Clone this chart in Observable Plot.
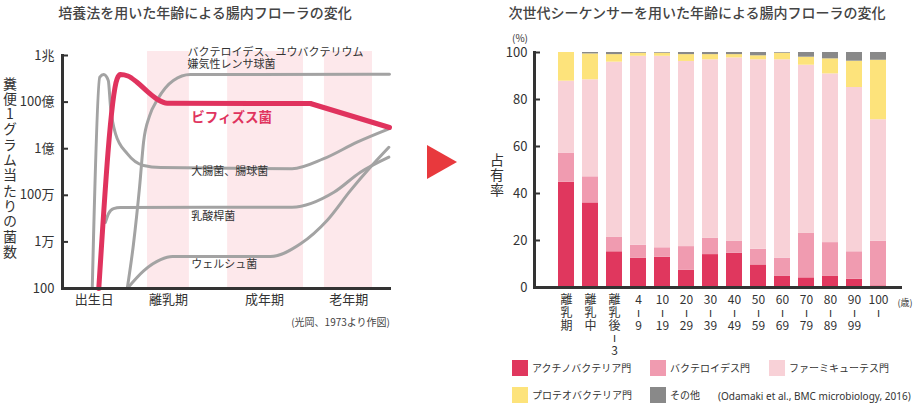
<!DOCTYPE html>
<html><head><meta charset="utf-8">
<script src="https://cdn.jsdelivr.net/npm/d3@7"></script>
<script src="https://cdn.jsdelivr.net/npm/@observablehq/plot@0.6"></script>
<style>
body{margin:0;background:#fff;}
#wrap{position:relative;width:914px;height:404px;overflow:hidden;background:#fff;font-family:'Noto Sans CJK JP','Noto Sans',sans-serif;color:#333;}
.abs{position:absolute;white-space:nowrap;line-height:1;}
.c{transform:translate(-50%,-50%);}
.lc{transform:translate(0,-50%);}
.rc{transform:translate(-100%,-50%);}
.sw{position:absolute;width:16px;height:16px;}
.vert{writing-mode:vertical-rl;text-orientation:upright;}
</style></head><body><div id="wrap"></div>
<script>
const FONT = "'Noto Sans CJK JP','Noto Sans',sans-serif";

// ---------- Left chart data (x: relative age position 0-100, values: log10 bacteria count) ----------
const yTickValues = [1e2, 1e4, 1e6, 1e8, 1e10, 1e12];
const yTickLabels = ["100", "1万", "100万", "1億", "100億", "1兆"];
const stagePos = [9.7, 32.4, 61.8, 87.5];
const stageLabels = ["出生日", "離乳期", "成年期", "老年期"];
const bandStart = [26.0, 50.5, 80.1];
const bandEnd = [38.8, 73.7, 94.8];
const bandTopLog = 12.17;

const bifidoX = [11.1, 16.7, 17.7, 20.0, 22.8, 26.0, 29.0, 32.0, 75.8];
const bifidoLog = [2.0, 11.0, 11.18, 11.12, 10.85, 10.45, 10.12, 9.95, 9.94];
const bifidoDeclineX = [75.8, 100];
const bifidoDeclineLog = [9.94, 8.91];

const coliX = [9.1, 11.4, 12.6, 14.0, 14.7, 16.2, 19.8, 24.8, 30.0, 70.2, 79.9, 90.1, 99.8];
const coliLog = [2.0, 11.07, 11.18, 10.93, 9.78, 8.65, 7.79, 7.28, 7.19, 7.14, 7.57, 8.28, 8.85];

const lactoX = [13.1, 14.1, 15.6, 17.7, 70.2, 83.0, 91.1, 99.8];
const lactoLog = [4.83, 5.22, 5.43, 5.48, 5.49, 6.13, 6.99, 7.64];

const bactX = [19.8, 21.7, 23.6, 24.8, 26.6, 29.0, 33.9, 39.1, 100];
const bactLog = [2.0, 3.9, 6.4, 8.3, 9.4, 10.1, 10.93, 11.18, 11.2];

const welchX = [19.8, 24.9, 30.0, 33.6, 63.6, 72.8, 80.9, 88.1, 94.2, 99.8];
const welchLog = [2.0, 2.77, 3.24, 3.37, 3.37, 3.92, 4.92, 6.21, 7.21, 8.06];

const curveLabelText = ["バクテロイデス、ユウバクテリウム", "嫌気性レンサ球菌", "大腸菌、腸球菌", "乳酸桿菌", "ウェルシュ菌"];
const curveLabelX = [38.2, 38.2, 39.4, 39.4, 39.4];
const curveLabelLog = [12.13, 11.62, 7.04, 5.09, 3.01];
const bifidoLabel = "ビフィズス菌";
const bifidoLabelX = 39.4;
const bifidoLabelLog = 9.34;

// ---------- Right chart data (% occupancy) ----------
const ageGroups = ["離乳期","離乳中","離乳後-3","4-9","10-19","20-29","30-39","40-49","50-59","60-69","70-79","80-89","90-99","100-"];
const ageTickLabels = ["離\n乳\n期","離\n乳\n中","離\n乳\n後\nı\n3","4\nı\n9","10\nı\n19","20\nı\n29","30\nı\n39","40\nı\n49","50\nı\n59","60\nı\n69","70\nı\n79","80\nı\n89","90\nı\n99","100\nı"];
const phylumNames = ["アクチノバクテリア門","バクテロイデス門","ファーミキューテス門","プロテオバクテリア門","その他"];
const phylumColors = ["#e0375e","#f09bb0","#f8d1d7","#fde37b","#898989"];
const actinobacteria = [44.8, 36.0, 15.2, 12.5, 12.9, 7.4, 14.0, 14.6, 9.6, 4.7, 4.1, 4.7, 3.5, 0.7];
const bacteroidetes  = [12.4, 11.1, 6.1, 5.5, 4.0, 10.0, 6.9, 5.0, 6.7, 7.8, 18.9, 14.4, 11.7, 19.0];
const firmicutes     = [30.6, 41.3, 74.6, 80.4, 81.5, 78.8, 76.0, 78.1, 80.6, 84.4, 71.6, 71.8, 69.9, 51.7];
const proteobacteria = [12.2, 11.0, 3.2, 1.3, 1.3, 2.9, 2.2, 1.4, 1.7, 2.8, 3.4, 6.4, 11.2, 25.3];
const others         = [0.0, 0.6, 0.9, 0.3, 0.3, 0.9, 0.9, 0.9, 1.4, 0.3, 2.0, 2.7, 3.7, 3.3];
const pctTicks = [0, 20, 40, 60, 80, 100];

// ---------- build ----------
const wrap = document.getElementById("wrap");
function addDiv(cls, text, left, top, style) {
  const d = document.createElement("div");
  d.className = "abs " + cls;
  d.textContent = text;
  d.style.left = left + "px";
  d.style.top = top + "px";
  if (style) Object.assign(d.style, style);
  wrap.appendChild(d);
  return d;
}
const pairs = (xs, es) => xs.map((x, i) => [x, 10 ** es[i]]);

// Left plot
const LW = 410, LH = 340, LML = 62, LMR = 21;
const left = Plot.plot({
  width: LW, height: LH,
  marginLeft: LML, marginRight: LMR, marginTop: 55, marginBottom: 52,
  x: {domain: [0, 100]},
  y: {type: "log", domain: [1e2, 1e12]},
  style: {fontFamily: FONT, fontSize: "13px", color: "#333", background: "transparent", overflow: "visible"},
  marks: [
    Plot.rect(bandStart.map((s, i) => ({s, e: bandEnd[i]})), {x1: "s", x2: "e", y1: () => 1e2, y2: () => 10 ** bandTopLog, fill: "#fde8eb"}),
    ...[[coliX, coliLog], [lactoX, lactoLog], [bactX, bactLog], [welchX, welchLog]].map(([xs, es]) =>
      Plot.line(pairs(xs, es), {curve: "monotone-x", stroke: "#a3a3a3", strokeWidth: 3, strokeLinecap: "round", strokeLinejoin: "round"})),
    Plot.line(pairs(bifidoX, bifidoLog), {curve: "monotone-x", stroke: "#e0335e", strokeWidth: 5, strokeLinecap: "round", strokeLinejoin: "round"}),
    Plot.line(pairs(bifidoDeclineX, bifidoDeclineLog), {stroke: "#e0335e", strokeWidth: 5, strokeLinecap: "round"}),
    Plot.text(curveLabelText.map((t, i) => ({t, x: curveLabelX[i], y: 10 ** curveLabelLog[i]})), {x: "x", y: "y", text: "t", textAnchor: "start", fontSize: 11, fill: "#333"}),
    Plot.text([{t: bifidoLabel, x: bifidoLabelX, y: 10 ** bifidoLabelLog}], {x: "x", y: "y", text: "t", textAnchor: "start", fontSize: 13.5, fontWeight: "bold", fill: "#e0335e"}),
    Plot.axisY({ticks: yTickValues, tickFormat: d => yTickLabels[yTickValues.indexOf(d)], tickSize: 0, tickPadding: 8, fontSize: 13, label: null}),
    Plot.tickY(yTickValues, {y: d => d, insetRight: (LW - LML - LMR) - 6, stroke: "#333", strokeWidth: 2}),
    Plot.frame({anchor: "left", stroke: "#333", strokeWidth: 3}),
    Plot.frame({anchor: "bottom", stroke: "#333", strokeWidth: 3}),
    Plot.axisX({ticks: stagePos, tickFormat: d => stageLabels[stagePos.indexOf(d)], tickSize: 0, tickPadding: 6, fontSize: 13, label: null})
  ]
});
left.style.position = "absolute"; left.style.left = "0px"; left.style.top = "0px";
wrap.appendChild(left);

// Right plot
const RX = 420, RW = 494, RH = 360, RML = 114, RMR = 14;
const rows = [];
const seriesVals = [actinobacteria, bacteroidetes, firmicutes, proteobacteria, others];
ageGroups.forEach((g, i) => seriesVals.forEach((arr, s) => rows.push({group: g, phylum: phylumNames[s], value: arr[i]})));
const right = Plot.plot({
  width: RW, height: RH,
  marginLeft: RML, marginRight: RMR, marginTop: 52, marginBottom: RH - 287,
  x: {type: "band", domain: ageGroups, range: [133.3, 470], paddingInner: 0.351, paddingOuter: 0, align: 0.5},
  y: {domain: [0, 100]},
  color: {domain: phylumNames, range: phylumColors},
  style: {fontFamily: FONT, fontSize: "13px", color: "#333", background: "transparent", overflow: "visible"},
  marks: [
    Plot.barY(rows, {x: "group", y: "value", fill: "phylum", order: null}),
    Plot.axisY({ticks: pctTicks, tickSize: 0, tickPadding: 7, fontSize: 13, label: null}),
    Plot.tickY(pctTicks, {y: d => d, insetRight: (RW - RML - RMR) - 6, stroke: "#333", strokeWidth: 2}),
    Plot.frame({anchor: "left", stroke: "#333", strokeWidth: 3}),
    Plot.frame({anchor: "bottom", stroke: "#333", strokeWidth: 3}),
    Plot.axisX({tickSize: 0, tickPadding: 8, tickFormat: d => ageTickLabels[ageGroups.indexOf(d)], fontSize: 12, lineHeight: 1.05, label: null})
  ]
});
right.style.position = "absolute"; right.style.left = RX + "px"; right.style.top = "0px";
wrap.appendChild(right);

// Titles and annotations
addDiv("c", "培養法を用いた年齢による腸内フローラの変化", 205, 12, {fontSize: "14px", fontWeight: "500", color: "#444"});
addDiv("c", "次世代シーケンサーを用いた年齢による腸内フローラの変化", 697, 12, {fontSize: "14px", fontWeight: "500", color: "#444"});
addDiv("c vert", "糞便1グラム当たりの菌数", 10, 168, {fontSize: "14px", letterSpacing: "1.3px"});
addDiv("rc", "(光岡、1973より作図)", 390, 322, {fontSize: "10px", color: "#444"});
addDiv("c", "(%)", 520, 38, {fontSize: "10px"});
addDiv("c vert", "占有率", 497, 175, {fontSize: "14px", letterSpacing: "1px"});
addDiv("c", "(歳)", 905, 302, {fontSize: "9px"});
const arrow = document.createElement("div");
Object.assign(arrow.style, {position: "absolute", left: "427px", top: "145px", width: "0", height: "0",
  borderTop: "17px solid transparent", borderBottom: "17px solid transparent", borderLeft: "30px solid #e8393d"});
wrap.appendChild(arrow);

// Legend
const legendPos = [[512, 368], [650, 368], [769, 368], [512, 395], [650, 395]];
phylumNames.forEach((n, i) => {
  const [x, y] = legendPos[i];
  const s = document.createElement("div");
  s.className = "sw";
  Object.assign(s.style, {left: x + "px", top: (y - 8) + "px", background: phylumColors[i]});
  wrap.appendChild(s);
  addDiv("lc", n, x + 20, y, {fontSize: "10px"});
});
addDiv("lc", "(Odamaki et al., BMC microbiology, 2016)", 718, 396, {fontSize: "10px", fontFamily: "'Noto Sans',sans-serif"});
</script></body></html>
